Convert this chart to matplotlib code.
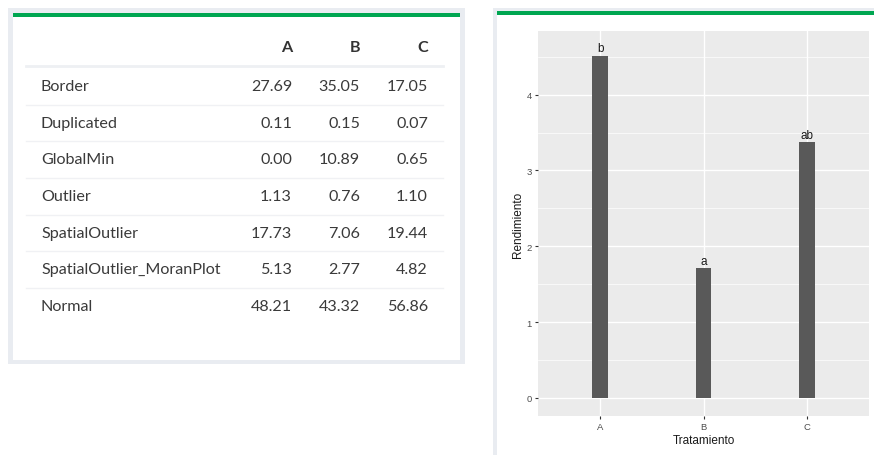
import matplotlib
matplotlib.use("Agg")
import matplotlib.pyplot as plt
from matplotlib.patches import Rectangle

# table data
row_labels = ["Border", "Duplicated", "GlobalMin", "Outlier", "SpatialOutlier",
              "SpatialOutlier_MoranPlot", "Normal"]
col_labels = ["A", "B", "C"]
col_a = [27.69, 0.11, 0.00, 1.13, 17.73, 5.13, 48.21]
col_b = [35.05, 0.15, 10.89, 0.76, 7.06, 2.77, 43.32]
col_c = [17.05, 0.07, 0.65, 1.10, 19.44, 4.82, 56.86]

# bar chart data
tratamientos = ["A", "B", "C"]
rendimiento = [4.51, 1.71, 3.37]
letras = ["b", "a", "ab"]

W, H = 874, 456
fig = plt.figure(figsize=(W / 100, H / 100), dpi=100)
fig.patch.set_facecolor("white")


def fx(x): return x / W
def fy(y): return 1 - y / H


def rect(x0, y0, x1, y1, color):
    fig.patches.append(Rectangle((fx(x0), fy(y1)), fx(x1) - fx(x0), fy(y0) - fy(y1),
                                 transform=fig.transFigure, facecolor=color,
                                 edgecolor="none", zorder=-5))


# card backdrops
rect(8, 9, 465, 365, "#e9ecf1")
rect(13, 14, 460, 361, "#ffffff")
rect(13, 14, 460, 18, "#00a651")
rect(493, 9, 874, 456, "#e9ecf1")
rect(497, 12, 874, 456, "#ffffff")
rect(497, 12, 874, 16, "#00a651")

# table
txt = "#3a3a3a"
font = "Lato"
fs = 11.6
col_right = [292, 360, 428]
fig.lines.append(plt.Line2D([fx(26), fx(443)], [fy(67), fy(67)], transform=fig.transFigure,
                            color="#eef0f3", lw=2))
for x, lab in zip(col_right, col_labels):
    fig.text(fx(x), fy(48), lab, ha="right", va="center", fontsize=fs,
             fontweight="bold", color="#333333", family=font)
row_y = [87, 124, 160, 197, 234, 270, 307]
for i, lab in enumerate(row_labels):
    y = row_y[i]
    fig.text(fx(41), fy(y), lab, ha="left", va="center", fontsize=fs, color=txt, family=font)
    for x, vals in zip(col_right, (col_a, col_b, col_c)):
        fig.text(fx(x), fy(y), f"{vals[i]:.2f}", ha="right", va="center", fontsize=fs,
                 color=txt, family=font)
    if i < len(row_labels) - 1:
        ly = (row_y[i] + row_y[i + 1]) / 2
        fig.lines.append(plt.Line2D([fx(26), fx(443)], [fy(ly), fy(ly)],
                                    transform=fig.transFigure, color="#f0f1f4", lw=1))

# bar chart (ggplot-like)
gg = "Liberation Sans"
ax = fig.add_axes([fx(538), fy(417), fx(869) - fx(538), fy(32) - fy(417)])
ax.set_facecolor("#ebebeb")
xs = range(len(tratamientos))
ax.bar(xs, rendimiento, width=0.15, color="#595959", zorder=3)
for x, v, l in zip(xs, rendimiento, letras):
    ax.text(x, v + 0.02, l, ha="center", va="bottom", fontsize=8.5, color="#1a1a1a",
            zorder=4, family=gg)
ax.set_xlim(-0.6, 2.6)
ax.set_ylim(-0.24, 4.84)
ax.set_yticks([0, 1, 2, 3, 4])
ax.set_yticks([0.5, 1.5, 2.5, 3.5, 4.5], minor=True)
ax.set_xticks(list(xs))
ax.set_xticklabels(tratamientos)
for lab in ax.get_xticklabels() + ax.get_yticklabels():
    lab.set_family(gg)
ax.grid(which="major", color="white", lw=1.0, zorder=0)
ax.grid(which="minor", axis="y", color="white", lw=0.5, zorder=0)
ax.set_axisbelow(True)
for s in ax.spines.values():
    s.set_visible(False)
ax.tick_params(which="major", length=2.5, color="#333333", labelsize=6.8,
               labelcolor="#4d4d4d", pad=2)
ax.tick_params(which="minor", length=0)
ax.set_xlabel("Tratamiento", fontsize=8.5, color="#1a1a1a", labelpad=2, family=gg)
ax.set_ylabel("Rendimiento", fontsize=8.5, color="#1a1a1a", labelpad=2, family=gg)

fig.savefig("out.png", dpi=100)
